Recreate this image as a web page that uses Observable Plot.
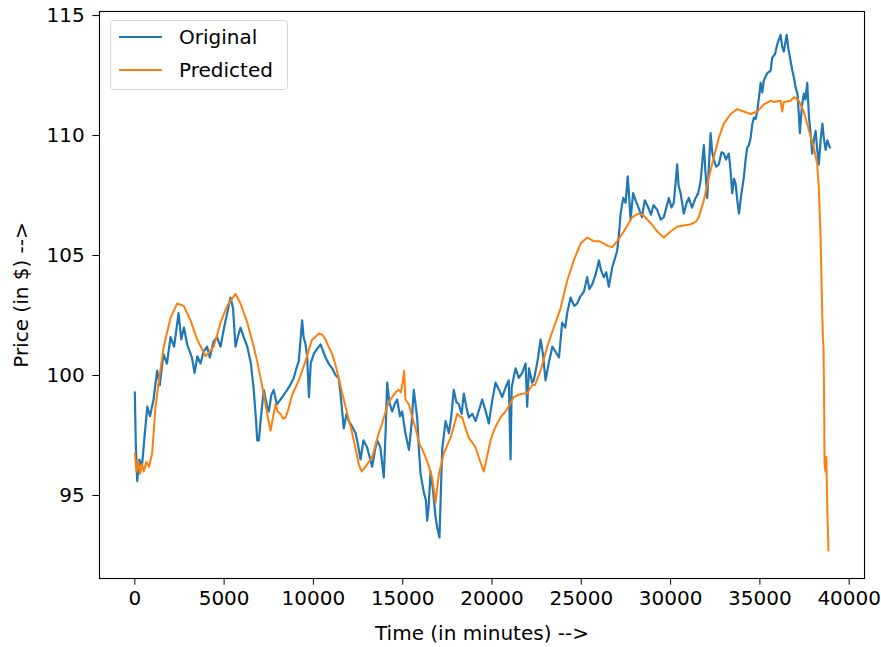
<!DOCTYPE html>
<html>
<head>
<meta charset="utf-8">
<script src="https://cdn.jsdelivr.net/npm/d3@7"></script>
<script src="https://cdn.jsdelivr.net/npm/@observablehq/plot@0.6"></script>
<style>
  html, body { margin: 0; padding: 0; background: #fff; }
  #wrap { position: relative; width: 881px; height: 647px; font-family: "DejaVu Sans", sans-serif; }
  #legend { position: absolute; left: 110px; top: 20px; width: 178px; height: 70px; border: 1px solid #d6d6d6; border-radius: 4px; background: rgba(255,255,255,0.85); box-sizing: border-box; }
  .sw { position: absolute; left: 8px; width: 43px; height: 0; border-top: 2px solid; }
  .lt { position: absolute; left: 68px; font-size: 20px; line-height: 20px; color: #000; white-space: nowrap; }
</style>
</head>
<body>
<div id="wrap"></div>
<script>
// ---- data ----
const seriesNames = ["Original", "Predicted"];
const seriesColors = ["#1f77b4", "#ff7f0e"];
const seriesWidths = [2.2, 2.0];
const xTicks = [0, 5000, 10000, 15000, 20000, 25000, 30000, 35000, 40000];
const yTicks = [95, 100, 105, 110, 115];
const xLabel = "Time (in minutes) -->";
const yLabel = "Price (in $) -->";

const origT = [0,60,134,250,400,550,700,850,1050,1250,1400,1600,1800,2000,2200,2450,2600,2750,2930,3200,3350,3500,3680,3850,4050,4200,4400,4600,4800,5000,5170,5360,5500,5640,5800,5920,6100,6300,6500,6660,6800,6850,6950,7040,7220,7410,7500,7650,7780,7950,8160,8350,8530,8700,8900,9050,9180,9370,9450,9560,9650,9750,9850,10020,10200,10400,10550,10680,10850,11050,11250,11420,11550,11700,11850,11980,12150,12360,12500,12640,12800,13010,13150,13290,13450,13570,13750,13940,14050,14130,14250,14410,14550,14690,14850,14970,15150,15350,15500,15620,15810,15900,16000,16190,16300,16370,16450,16560,16700,16840,16950,17060,17130,17210,17400,17590,17720,17860,18000,18140,18300,18420,18560,18700,18900,19080,19250,19450,19650,19820,20000,20200,20400,20570,20760,20940,21040,21100,21320,21500,21690,21880,21970,22070,22250,22340,22550,22720,22850,23000,23200,23380,23550,23750,23930,24100,24210,24400,24600,24770,24950,25150,25330,25450,25610,25800,25990,26100,26260,26400,26540,26730,26850,27010,27100,27200,27350,27480,27600,27760,27900,28040,28200,28400,28550,28750,28900,29050,29250,29450,29620,29900,30050,30180,30370,30450,30560,30740,30900,31020,31200,31400,31550,31680,31860,31950,32050,32150,32240,32330,32420,32550,32700,32850,32980,33100,33260,33350,33450,33550,33640,33750,33830,33950,34100,34200,34290,34380,34480,34580,34670,34760,34850,34950,35040,35130,35220,35410,35600,35690,35850,35970,36160,36250,36340,36500,36600,36720,36820,36910,37000,37100,37180,37240,37350,37460,37550,37650,37750,37850,37930,38020,38120,38200,38300,38400,38500,38580,38680,38780,38870,38920];
const origV = [99.3,97.0,95.6,96.5,96.2,97.5,98.7,98.3,99.0,100.2,99.6,100.9,100.5,101.6,101.2,102.6,101.5,102.0,101.3,100.75,100.1,100.8,100.5,101.0,101.2,100.75,101.4,101.6,101.2,102.0,102.6,103.25,102.8,101.2,101.7,102.0,101.6,101.2,100.5,99.4,98.0,97.3,97.3,98.1,99.4,98.7,98.5,99.2,99.4,98.8,99.0,99.2,99.4,99.6,99.9,100.3,100.6,102.3,101.6,101.3,100.8,99.1,100.5,100.9,101.1,101.3,101.0,100.75,100.5,100.3,100.0,99.9,99.0,97.8,98.4,98.1,97.9,97.6,97.1,96.5,97.3,97.0,96.6,96.2,96.9,97.3,97.0,95.75,97.8,99.7,98.9,98.5,98.8,99.0,98.3,98.5,97.6,96.9,98.0,99.4,98.25,97.0,95.9,95.1,94.8,93.95,94.5,96.0,95.2,94.1,93.6,93.25,95.0,96.9,98.1,97.6,98.3,99.4,98.9,98.8,98.4,99.25,98.7,98.25,98.4,98.1,98.5,99.0,98.5,98.0,98.9,99.7,99.4,99.1,99.5,99.8,96.5,99.5,100.3,99.9,100.1,100.5,98.7,100.3,99.7,99.8,100.6,101.5,100.9,99.8,100.6,101.2,101.0,100.75,102.2,102.0,102.6,103.25,102.9,103.0,103.3,103.5,104.1,103.6,103.8,104.2,104.8,104.4,104.1,104.3,103.7,104.5,104.8,105.2,105.8,106.75,107.4,107.2,108.3,106.5,107.6,107.3,107.0,106.6,107.3,107.0,106.7,107.1,106.9,106.5,106.6,107.4,107.0,107.2,108.8,107.9,107.6,106.75,107.2,107.4,107.0,107.4,107.6,108.1,109.6,108.5,107.4,108.8,110.1,109.3,109.0,108.7,108.8,109.3,109.25,109.0,109.25,108.6,107.6,108.2,108.0,107.2,106.75,107.5,108.25,109.0,109.5,109.6,109.9,110.5,110.75,110.7,111.0,111.6,112.2,111.8,112.3,112.6,112.7,113.25,113.4,113.8,114.2,113.7,113.5,114.2,113.6,113.1,112.7,112.4,112.0,111.75,110.9,110.1,111.2,111.75,111.5,112.2,110.75,110.0,109.25,109.8,110.2,109.5,108.8,109.8,110.5,109.9,109.4,109.8,109.6,109.5];

const predT = [0,100,200,300,400,500,650,800,970,1160,1350,1620,2000,2370,2740,3120,3490,3960,4420,4800,5170,5640,5920,6300,6660,6850,7040,7200,7410,7600,7750,7880,8000,8160,8300,8440,8600,8810,9000,9180,9370,9560,9750,9930,10100,10300,10500,10680,10850,11050,11250,11420,11600,11800,12000,12170,12350,12540,12700,12920,13100,13290,13480,13660,13850,14040,14230,14410,14600,14780,14900,15000,15080,15150,15350,15540,15720,15910,16100,16280,16470,16650,16750,16840,16930,17030,17160,17300,17500,17680,17870,18050,18200,18330,18520,18700,18900,19080,19300,19540,19720,19920,20100,20290,20520,20760,21000,21220,21500,21780,21970,22250,22400,22720,23090,23460,23840,24210,24580,24960,25330,25700,26000,26260,26500,26730,27010,27380,27850,28220,28450,28690,28950,29250,29620,30000,30370,30740,31120,31400,31580,31860,32140,32420,32700,32980,33360,33730,34100,34480,34850,35220,35600,35780,36160,36250,36340,36720,36910,37180,37460,37750,38020,38210,38300,38360,38400,38430,38490,38530,38560,38590,38620,38670,38720,38780,38840];
const predV = [96.75,96.0,96.4,95.9,96.3,96.0,96.4,96.2,96.75,98.7,99.8,101.2,102.4,103.0,102.9,102.3,101.5,100.8,101.2,102.2,102.9,103.4,103.0,102.2,101.2,100.6,99.9,99.3,98.4,97.7,98.3,98.8,98.5,98.4,98.2,98.25,98.6,99.2,99.5,99.8,100.2,100.6,101.1,101.5,101.6,101.75,101.7,101.5,101.2,100.9,100.4,99.9,99.3,98.7,98.1,97.6,97.0,96.3,96.0,96.2,96.4,96.6,97.1,97.6,98.0,98.5,98.9,99.1,99.3,99.4,99.3,99.7,100.2,99.0,98.8,98.25,97.8,97.2,96.9,96.6,96.2,95.75,95.2,94.7,95.3,95.9,96.3,96.75,97.1,97.4,97.9,98.4,98.3,98.25,97.8,97.4,97.2,97.0,96.5,96.0,96.6,97.3,97.7,98.0,98.3,98.5,98.8,99.1,99.2,99.25,99.25,99.6,99.6,100.2,101.2,102.0,102.8,103.95,104.8,105.5,105.75,105.6,105.6,105.5,105.4,105.35,105.6,106.0,106.6,106.75,106.7,106.5,106.3,106.0,105.75,106.0,106.2,106.25,106.3,106.4,106.6,107.3,108.25,109.1,109.9,110.5,110.9,111.1,111.0,110.9,111.0,111.3,111.45,111.4,111.45,111.0,111.4,111.45,111.6,111.45,111.0,110.2,109.5,108.8,107.8,106.5,105.7,104.7,102.6,101.5,101.2,99.5,96.3,96.0,96.6,94.25,92.7];

// ---- build tables ----
const origRows = origT.map((t, i) => ({t, v: origV[i]}));
const predRows = predT.map((t, i) => ({t, v: predV[i]}));

const chart = Plot.plot({
  width: 881,
  height: 647,
  marginLeft: 99,
  marginRight: 17,
  marginTop: 11,
  marginBottom: 69,
  style: {fontFamily: "DejaVu Sans", fontSize: "20px", background: "white", color: "black", overflow: "visible"},
  x: {domain: [-1977, 40857]},
  y: {domain: [91.54, 115.17]},
  marks: [
    Plot.line(origRows, {x: "t", y: "v", stroke: seriesColors[0], strokeWidth: seriesWidths[0], strokeLinejoin: "round"}),
    Plot.line(predRows, {x: "t", y: "v", stroke: seriesColors[1], strokeWidth: seriesWidths[1], strokeLinejoin: "round"}),
    Plot.frame({stroke: "#000", strokeWidth: 1.1}),
    Plot.axisX({ticks: xTicks, tickFormat: d => String(d), tickSize: 6.7, tickPadding: 6, label: null, stroke: "#000", fontSize: 20}),
    Plot.axisY({ticks: yTicks, tickFormat: d => String(d), tickSize: 6.7, tickPadding: 8, label: null, stroke: "#000", fontSize: 20}),
    Plot.text([xLabel], {frameAnchor: "bottom", textAnchor: "middle", lineAnchor: "middle", dy: 55, fontSize: 20, fill: "#000"}),
    Plot.text([yLabel], {frameAnchor: "left", textAnchor: "middle", lineAnchor: "middle", rotate: -90, dx: -78, fontSize: 20, fill: "#000"})
  ]
});

const wrap = document.getElementById("wrap");
wrap.appendChild(chart);

// legend (HTML overlay inside the axes)
const leg = document.createElement("div");
leg.id = "legend";
seriesNames.forEach((name, i) => {
  const cy = 16 + i * 33;
  const sw = document.createElement("div");
  sw.className = "sw";
  sw.style.top = (cy - 1) + "px";
  sw.style.borderTopColor = seriesColors[i];
  leg.appendChild(sw);
  const lt = document.createElement("div");
  lt.className = "lt";
  lt.style.top = (cy - 10) + "px";
  lt.textContent = name;
  leg.appendChild(lt);
});
wrap.appendChild(leg);
</script>
</body>
</html>
